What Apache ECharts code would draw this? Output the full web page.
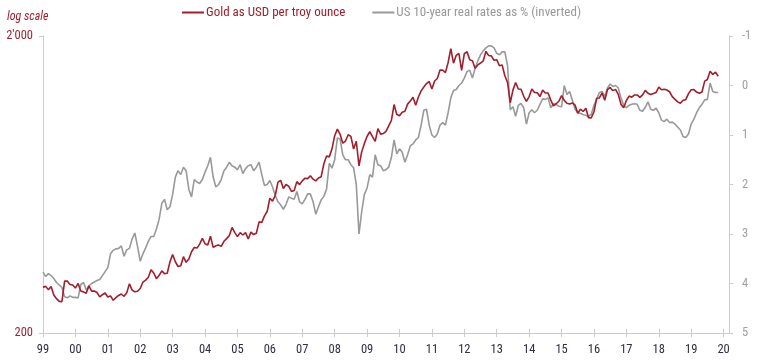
<!DOCTYPE html>
<html><head><meta charset="utf-8">
<script src="https://cdn.jsdelivr.net/npm/echarts@6/dist/echarts.min.js"></script>
<style>html,body{margin:0;padding:0;background:#fff}#c{width:763px;height:361px}</style>
</head><body><div id="c"></div>
<script>
const yearLabels = ['99','00','01','02','03','04','05','06','07','08','09','10','11','12','13','14','15','16','17','18','19','20'];
const fullYears = [1999,2000,2001,2002,2003,2004,2005,2006,2007,2008,2009,2010,2011,2012,2013,2014,2015,2016,2017,2018,2019];
const extraMonths = ['2020-01','2020-02','2020-03'];

const gold1999 = [285.4,287.1,279.5,286.6,268.6,261.0,255.6,254.8,299.0,299.1,291.4,290.3];
const gold2000 = [283.3,293.7,276.8,275.1,272.3,288.2,276.8,277.0,273.7,264.5,269.1,272.7];
const gold2001 = [264.5,266.7,257.7,263.2,267.5,270.6,265.9,273.0,293.1,278.8,275.5,276.5];
const gold2002 = [282.3,296.9,301.4,308.2,326.6,318.5,304.7,312.8,323.7,316.9,317.7,347.2];
const gold2003 = [367.5,347.5,334.9,336.8,361.4,346.0,354.8,375.6,388.0,386.3,398.4,416.3];
const gold2004 = [399.8,395.9,423.7,388.5,393.3,395.8,391.4,407.3,415.7,425.6,453.4,435.6];
const gold2005 = [422.2,435.5,427.5,435.7,414.5,437.1,429.0,433.3,473.3,470.8,495.7,513.0];
const gold2006 = [568.8,556.0,582.0,644.0,653.0,613.5,632.5,623.5,599.3,603.8,646.7,632.0];
const gold2007 = [650.5,664.2,661.8,677.0,659.1,650.5,665.5,672.0,743.0,789.5,783.5,833.8];
const gold2008 = [923.3,971.5,933.5,871.0,885.8,930.3,918.0,833.0,884.5,730.8,814.5,869.8];
const gold2009 = [919.5,952.0,916.5,883.3,975.5,934.5,939.0,955.5,995.8,1040.0,1175.8,1087.5];
const gold2010 = [1078.5,1108.3,1115.5,1179.3,1207.5,1244.5,1169.0,1246.0,1307.0,1346.8,1383.5,1405.5];
const gold2011 = [1327.0,1411.0,1439.0,1535.5,1536.5,1505.5,1628.5,1813.5,1620.0,1722.0,1746.0,1531.0];
const gold2012 = [1744.0,1770.0,1662.5,1651.3,1558.0,1598.5,1622.0,1648.5,1776.0,1719.0,1714.5,1657.5];
const gold2013 = [1664.8,1588.5,1598.3,1469.0,1394.5,1192.0,1314.5,1394.8,1326.5,1324.0,1253.0,1204.5];
const gold2014 = [1251.0,1326.5,1291.8,1288.5,1250.5,1315.0,1285.3,1285.8,1216.5,1164.3,1182.8,1206.0];
const gold2015 = [1260.3,1214.0,1187.0,1180.3,1190.6,1171.0,1098.4,1135.0,1114.0,1142.4,1061.9,1060.0];
const gold2016 = [1111.8,1234.9,1237.0,1285.7,1214.7,1320.8,1342.0,1309.3,1322.5,1272.0,1178.1,1145.9];
const gold2017 = [1212.8,1255.6,1244.9,1266.5,1266.2,1242.3,1267.6,1311.8,1283.1,1270.2,1280.2,1291.0];
const gold2018 = [1345.2,1317.9,1323.9,1315.5,1298.0,1250.5,1224.1,1200.5,1187.3,1214.9,1220.9,1279.0];
const gold2019 = [1318.5,1319.2,1295.4,1283.2,1295.5,1409.0,1427.6,1523.0,1485.3,1510.9,1463.5];

const real1999 = [3.77,3.86,3.80,3.84,3.90,3.98,4.03,4.08,4.27,4.29,4.25,4.28];
const real2000 = [4.28,4.29,4.02,3.98,4.13,4.05,4.00,3.97,3.94,3.92,3.84,3.76];
const real2001 = [3.68,3.40,3.33,3.30,3.29,3.24,3.45,3.32,3.29,3.10,2.98,3.25];
const real2002 = [3.55,3.40,3.28,3.15,3.05,3.05,2.90,2.70,2.38,2.30,2.51,2.45];
const real2003 = [2.20,1.85,1.72,1.80,1.65,1.72,2.10,2.25,1.90,1.95,1.98,1.90];
const real2004 = [1.75,1.62,1.45,1.85,2.05,2.00,1.90,1.72,1.65,1.55,1.62,1.65];
const real2005 = [1.70,1.60,1.78,1.68,1.62,1.60,1.72,1.65,1.55,1.80,2.02,2.00];
const real2006 = [1.92,2.05,2.22,2.35,2.41,2.50,2.40,2.25,2.28,2.30,2.14,2.35];
const real2007 = [2.39,2.30,2.19,2.19,2.35,2.60,2.45,2.31,2.24,2.09,1.57,1.67];
const real2008 = [1.50,1.06,1.08,1.40,1.50,1.50,1.60,1.66,2.00,3.00,2.55,2.20];
const real2009 = [2.07,1.80,1.85,1.40,1.60,1.62,1.72,1.70,1.65,1.45,1.10,1.38];
const real2010 = [1.28,1.35,1.55,1.40,1.22,1.18,1.10,1.05,0.80,0.50,0.48,0.80];
const real2011 = [1.00,1.05,0.98,0.80,0.75,0.80,0.55,0.25,0.10,0.08,0.00,-0.05];
const real2012 = [-0.15,-0.28,-0.31,-0.15,-0.35,-0.50,-0.62,-0.70,-0.76,-0.80,-0.80,-0.76];
const real2013 = [-0.65,-0.62,-0.68,-0.68,-0.40,0.49,0.43,0.62,0.40,0.36,0.45,0.78];
const real2014 = [0.55,0.49,0.55,0.50,0.38,0.27,0.28,0.25,0.45,0.37,0.38,0.42];
const real2015 = [0.43,0.00,0.18,0.12,0.30,0.48,0.55,0.56,0.59,0.60,0.63,0.58];
const real2016 = [0.40,0.28,0.14,0.12,0.22,0.05,-0.03,0.02,0.00,0.05,0.25,0.40];
const real2017 = [0.45,0.40,0.38,0.37,0.38,0.50,0.52,0.44,0.33,0.48,0.50,0.46];
const real2018 = [0.55,0.70,0.73,0.68,0.75,0.74,0.78,0.84,0.90,1.03,1.05,0.98];
const real2019 = [0.78,0.68,0.55,0.45,0.38,0.29,0.28,-0.05,0.12,0.14,0.14];

const goldSeries = [].concat(gold1999,gold2000,gold2001,gold2002,gold2003,gold2004,gold2005,gold2006,gold2007,gold2008,gold2009,gold2010,gold2011,gold2012,gold2013,gold2014,gold2015,gold2016,gold2017,gold2018,gold2019);
const realSeries = [].concat(real1999,real2000,real2001,real2002,real2003,real2004,real2005,real2006,real2007,real2008,real2009,real2010,real2011,real2012,real2013,real2014,real2015,real2016,real2017,real2018,real2019);

const months = ['01','02','03','04','05','06','07','08','09','10','11','12'];
const categories = [];
fullYears.forEach(y => months.forEach(m => categories.push(y + '-' + m)));
extraMonths.forEach(m => categories.push(m));

const FONT = "Roboto";
const COND = 'condensed';
const RED = '#a31d2b';
const LABRED = '#9b2233';
const GREY = '#999999';
const AX = '#cccccc';
const isYearStart = (i, v) => v.slice(5) === '01';
const yearLabel = v => yearLabels[fullYears.concat([2020]).indexOf(+v.slice(0,4))];

const chart = echarts.init(document.getElementById('c'), null, {renderer:'canvas'});
chart.setOption({
  animation: false,
  textStyle: {fontFamily: FONT},
  grid: {left: 43, right: 34, top: 36, bottom: 28, containLabel: false},
  legend: {
    top: 1, left: 'center', icon: 'rect', itemWidth: 22, itemHeight: 2, itemGap: 27,
    textStyle: {fontFamily: FONT, fontStyle: 'normal', fontWeight: COND, fontSize: 13, padding: [0,0,0,-3]},
    data: [
      {name: 'Gold as USD per troy ounce', textStyle: {color: RED}},
      {name: 'US 10-year real rates as % (inverted)', textStyle: {color: GREY}}
    ]
  },
  graphic: [{type:'text', left: 7, top: 11, style: {text: 'log scale', fill: RED, font: "italic condensed 12px " + FONT}}],
  xAxis: [{
    type: 'category', data: categories, boundaryGap: false,
    axisLine: {onZero: false, lineStyle: {color: AX}},
    axisTick: {interval: isYearStart, length: 4, lineStyle: {color: AX}},
    axisLabel: {interval: isYearStart, formatter: yearLabel, color: '#2e3042', fontSize: 12.5, fontFamily: FONT, fontStyle: 'normal', fontWeight: COND, margin: 10},
    splitLine: {show: false}
  },{
    type: 'category', data: categories, boundaryGap: false, position: 'bottom',
    axisLine: {show: false, onZero: false},
    axisTick: {inside: true, interval: isYearStart, length: 4, lineStyle: {color: AX}},
    axisLabel: {show: false}, splitLine: {show: false}
  }],
  yAxis: [{
    type: 'log', logBase: 10, min: 200, max: 2000, interval: 1,
    axisLine: {show: true, lineStyle: {color: AX}},
    axisTick: {show: true, length: 4, lineStyle: {color: AX}},
    axisLabel: {color: LABRED, fontSize: 12.5, fontFamily: FONT, fontStyle: 'normal', fontWeight: COND, margin: 10,
      formatter: v => (Math.abs(v-2000) < 1 ? "2'000" : (Math.abs(v-200) < 1 ? '200' : ''))},
    splitLine: {show: false}
  },{
    type: 'value', inverse: true, min: -1, max: 5, interval: 1, position: 'right',
    axisLine: {show: true, lineStyle: {color: AX}},
    axisTick: {show: true, length: 4, lineStyle: {color: AX}},
    axisLabel: {color: '#a0a0a0', fontSize: 12.5, fontFamily: FONT, fontStyle: 'normal', fontWeight: COND, margin: 13},
    splitLine: {show: false}
  }],
  series: [
    {name: 'US 10-year real rates as % (inverted)', type: 'line', yAxisIndex: 1, data: realSeries,
     showSymbol: false, symbol: 'none', lineStyle: {color: GREY, width: 1.6}, itemStyle: {color: GREY}},
    {name: 'Gold as USD per troy ounce', type: 'line', yAxisIndex: 0, data: goldSeries,
     showSymbol: false, symbol: 'none', lineStyle: {color: RED, width: 1.6}, itemStyle: {color: RED}}
  ]
});
</script></body></html>
